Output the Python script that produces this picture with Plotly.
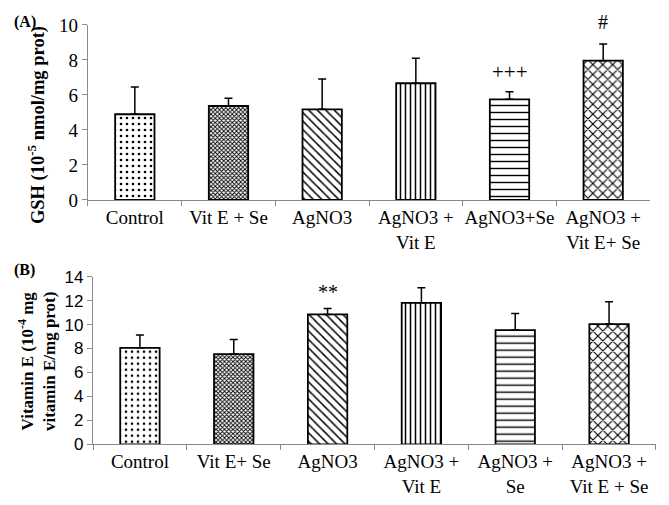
import plotly.graph_objects as go
from plotly.subplots import make_subplots

# Panel A - GSH
groups_a = ["Control", "Vit E + Se", "AgNO3", "AgNO3 +<br>Vit E", "AgNO3+Se", "AgNO3 +<br>Vit E+ Se"]
gsh_mean = [4.9, 5.37, 5.18, 6.67, 5.75, 7.96]
gsh_err = [1.56, 0.44, 1.73, 1.43, 0.44, 0.95]

# Panel B - Vitamin E
groups_b = ["Control", "Vit E+ Se", "AgNO3", "AgNO3 +<br>Vit E", "AgNO3 +<br>Se", "AgNO3 +<br>Vit E + Se"]
vite_mean = [8.06, 7.54, 10.85, 11.82, 9.54, 10.04]
vite_err = [1.06, 1.22, 0.5, 1.25, 1.39, 1.86]

# hatch per group (same order in both panels)
patterns = [".", "x", "\\", "|", "-", "x"]
pat_size = [6, 3, 6, 5, 7, 7]
pat_solid = [0.15, 0.5, 0.25, 0.3, 0.2, 0.3]

SERIF = "Liberation Serif"

fig = make_subplots(rows=2, cols=1)


def add_bars(xs, ys, errs, row):
    fig.add_trace(go.Bar(
        x=xs, y=ys,
        width=0.42,
        marker=dict(
            color="white",
            line=dict(color="black", width=1.8),
            pattern=dict(shape=patterns, size=pat_size, solidity=pat_solid,
                         fgcolor="black", bgcolor="white"),
        ),
        error_y=dict(type="data", array=errs, arrayminus=[0] * len(errs),
                     symmetric=False, color="black", thickness=1.5, width=4),
        showlegend=False,
    ), row=row, col=1)


add_bars(groups_a, gsh_mean, gsh_err, 1)
add_bars(groups_b, vite_mean, vite_err, 2)

axis_common = dict(showline=True, linecolor="#8a8a8a", linewidth=1.2,
                   showgrid=False, zeroline=False, ticks="outside",
                   tickcolor="#8a8a8a", ticklen=5, automargin=False)

# page body adds ~8px offset, so figure is a bit smaller than the window
fig.update_layout(
    template="none",
    width=661, height=497,
    margin=dict(l=0, r=0, t=0, b=0),
    plot_bgcolor="white", paper_bgcolor="white",
    xaxis=dict(domain=[0.121, 0.9713], anchor="y", tickson="boundaries", tickangle=0,
               tickfont=dict(family=SERIF, size=19, color="black"), **axis_common),
    yaxis=dict(domain=[0.6137, 0.9658], anchor="x", range=[0, 10], dtick=2,
               tickfont=dict(family=SERIF, size=19, color="black"), **axis_common),
    xaxis2=dict(domain=[0.1286, 0.9803], anchor="y2", tickson="boundaries", tickangle=0,
                tickfont=dict(family=SERIF, size=19, color="black"), **axis_common),
    yaxis2=dict(domain=[0.1221, 0.4594], anchor="x2", range=[0, 14], dtick=2,
                tickfont=dict(family="Liberation Sans", size=17, color="black"), **axis_common),
)

ann = [
    dict(text="<b>(A)</b>", x=0.006, y=0.972, xref="paper", yref="paper",
         xanchor="left", yanchor="middle", showarrow=False,
         font=dict(family=SERIF, size=16, color="black")),
    dict(text="<b>(B)</b>", x=0.006, y=0.473, xref="paper", yref="paper",
         xanchor="left", yanchor="middle", showarrow=False,
         font=dict(family=SERIF, size=16, color="black")),
    dict(text="<b>GSH (10<sup>-5</sup> nmol/mg prot)</b>", x=0.0424, y=0.7645,
         xref="paper", yref="paper", textangle=-90, showarrow=False,
         xanchor="center", yanchor="middle",
         font=dict(family=SERIF, size=18.5, color="black")),
    dict(text="<b>Vitamin E (10<sup>-4</sup> mg<br>vitamin E/mg prot)</b>", x=0.0439, y=0.2877,
         xref="paper", yref="paper", textangle=-90, showarrow=False,
         xanchor="center", yanchor="middle",
         font=dict(family=SERIF, size=17, color="black")),
    dict(text="+++", x=groups_a[4], y=gsh_mean[4] + gsh_err[4], yshift=20, xref="x", yref="y",
         showarrow=False, font=dict(family=SERIF, size=21, color="black")),
    dict(text="#", x=groups_a[5], y=gsh_mean[5] + gsh_err[5], yshift=22, xref="x", yref="y",
         showarrow=False, font=dict(family=SERIF, size=20, color="black")),
    dict(text="**", x=groups_b[2], y=vite_mean[2] + vite_err[2], yshift=16, xref="x2", yref="y2",
         showarrow=False, font=dict(family=SERIF, size=20, color="black")),
]
fig.update_layout(annotations=ann)

fig.write_html("out.html")
